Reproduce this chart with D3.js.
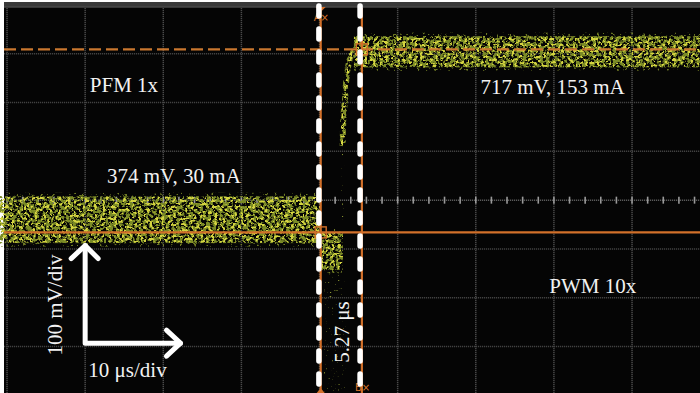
<!DOCTYPE html>
<html>
<head>
<meta charset="utf-8">
<script src="https://cdn.jsdelivr.net/npm/d3@7"></script>
<style>
html, body { margin:0; padding:0; background:#fff; }
svg { display:block; }
.lbl { font-family:"Liberation Serif","DejaVu Serif",serif; font-size:21px; fill:#f2f2f2; }
.cur { font-family:"DejaVu Sans",sans-serif; font-size:10px; fill:#d9742c; }
</style>
</head>
<body>
<svg id="scope" width="700" height="393"></svg>
<script>
"use strict";
var W = 700, H = 393;

// graticule (10 us/div, 100 mV/div)
var gridTimes = [-40, -30, -20, -10, 0, 10, 20, 30, 40];
var gridLevels = [-300, -200, -100, 0, 100, 200, 300];
var minorTicks = [-40, -38, -36, -34, -32, -30, -28, -26, -24, -22, -20, -18, -16, -14, -12, -10, -8, -6, -4, -2,
                  0, 2, 4, 6, 8, 10, 12, 14, 16, 18, 20, 22, 24, 26, 28, 30, 32, 34, 36, 38, 40, 42, 44, 46, 48];

// noisy trace bands (us, mV on screen)
var bandStart  = [-41, 0.2, 4.4];
var bandEnd    = [0.2, 3.0, 49];
var bandTop    = [8, -66, 336];
var bandBottom = [-88, -143, 272];

// sparse dots under the drop
var tailStart = 0.6, tailEnd = 3.3, tailTop = -143, tailBottom = -392;

// rising edge of the trace
var riseT  = [2.97, 3.0, 3.1, 3.26, 3.39, 3.65, 4.16, 4.93, 5.6];
var riseMV = [110, 143, 180, 205, 240, 273, 301, 313, 320];
// faint dots below the rising edge
var riseFaintT  = [2.9, 2.93, 2.97];
var riseFaintMV = [-40, 40, 110];

// cursors
var cursorTimes = [0.15, 5.42];
var cursorLevels = [-66, 309];
var cursorNames = ["A\u00d7", "B\u00d7"];

// annotations
var labelText = ["PFM 1x", "717 mV, 153 mA", "374 mV, 30 mA", "PWM 10x", "10 \u03bcs/div"];
var labelT    = [-29.4, 20.6, -27.2, 29.4, -29.6];
var labelMV   = [222, 217, 35, -190, -362];
var deltaText = "5.27 \u03bcs";
var axisText = "100 mV/div";

// scale arrow: origin, up end, right end
var arrowT = [-30, -30, -17.8];
var arrowMV = [-293, -93, -293];

var x = d3.scaleLinear().domain([-40.9, 48.7]).range([0, W]);
var y = d3.scaleLinear().domain([-395, 410]).range([H, 0]);

var svg = d3.select("#scope");
var defs = svg.append("defs");

function addSpeckle(id, freq, seed, cut) {
  var gain = 12;
  var f = defs.append("filter").attr("id", id)
    .attr("filterUnits", "userSpaceOnUse")
    .attr("x", 0).attr("y", 0).attr("width", W).attr("height", H)
    .attr("color-interpolation-filters", "sRGB");
  f.append("feTurbulence").attr("type", "fractalNoise")
    .attr("baseFrequency", freq).attr("numOctaves", 2).attr("seed", seed).attr("result", "n");
  f.append("feColorMatrix").attr("in", "n").attr("type", "matrix")
    .attr("values", "0 0 0 0 0  0 0 0 0 0  0 0 0 0 0  " + gain + " 0 0 0 " + (-cut * gain))
    .attr("result", "m");
  f.append("feComposite").attr("in", "SourceGraphic").attr("in2", "m").attr("operator", "in");
}
addSpeckle("spOlive", 0.3, 3, 0.47);
addSpeckle("spYellow", 0.34, 11, 0.56);
addSpeckle("spSparse", 0.35, 7, 0.62);
addSpeckle("spTail", 0.5, 5, 0.7);

// screen
svg.append("rect").attr("x", 4).attr("y", 2).attr("width", W - 4).attr("height", H - 2).attr("fill", "#050505");
svg.append("rect").attr("x", 4).attr("y", 2).attr("width", W - 4).attr("height", 4.5).attr("fill", "#3a3a3a");
svg.append("line").attr("x1", 4).attr("x2", W).attr("y1", 7).attr("y2", 7).attr("stroke", "#6a6a6a").attr("stroke-width", 1.2);

// grid
var grid = svg.append("g");
grid.selectAll("line.v").data(gridTimes).enter().append("line")
  .attr("x1", function(d) { return x(d); }).attr("x2", function(d) { return x(d); })
  .attr("y1", 8).attr("y2", H)
  .attr("stroke", "#4a4a4a").attr("stroke-width", 1.5).attr("stroke-dasharray", "1.2,0.8");
grid.selectAll("line.h").data(gridLevels).enter().append("line")
  .attr("x1", 4).attr("x2", W)
  .attr("y1", function(d) { return y(d); }).attr("y2", function(d) { return y(d); })
  .attr("stroke", function(d) { return d === 0 ? "#5a5a5a" : "#424242"; })
  .attr("stroke-width", 1.5).attr("stroke-dasharray", "1.2,0.8");
grid.selectAll("line.tk").data(minorTicks).enter().append("line")
  .attr("x1", function(d) { return x(d); }).attr("x2", function(d) { return x(d); })
  .attr("y1", y(0) - 3.5).attr("y2", y(0) + 3.5)
  .attr("stroke", "#9a9a9a").attr("stroke-width", 1.6);

// traces
var traces = svg.append("g");
var bands = d3.range(bandStart.length);
function bandRect(sel, pad) {
  return sel.append("rect")
    .attr("x", function(i) { return x(bandStart[i]); })
    .attr("width", function(i) { return x(bandEnd[i]) - x(bandStart[i]); })
    .attr("y", function(i) { return y(bandTop[i] + pad); })
    .attr("height", function(i) { return y(bandBottom[i] - pad) - y(bandTop[i] + pad); });
}
traces.append("rect")
  .attr("x", x(tailStart)).attr("width", x(tailEnd) - x(tailStart))
  .attr("y", y(tailTop)).attr("height", y(tailBottom) - y(tailTop))
  .attr("fill", "#8a9430").attr("filter", "url(#spTail)");
bandRect(traces.selectAll("g.fz").data(bands).enter().append("g"), 7)
  .attr("fill", "#6e7a24").attr("filter", "url(#spSparse)");
bandRect(traces.selectAll("g.ol").data(bands).enter().append("g"), 0)
  .attr("fill", "#7a8a26").attr("filter", "url(#spOlive)");
bandRect(traces.selectAll("g.ye").data(bands).enter().append("g"), -1)
  .attr("fill", "#d4d440").attr("filter", "url(#spYellow)");

var rise = d3.line().curve(d3.curveMonotoneY)
  .x(function(d, i) { return x(riseT[i]); })
  .y(function(d, i) { return y(riseMV[i]); });
var riseFaint = d3.line()
  .x(function(d, i) { return x(riseFaintT[i]); })
  .y(function(d, i) { return y(riseFaintMV[i]); });
traces.append("path").attr("d", riseFaint(riseFaintT)).attr("fill", "none")
  .attr("stroke", "#8a9430").attr("stroke-width", 4).attr("filter", "url(#spTail)");
traces.append("path").attr("d", rise(riseT)).attr("fill", "none")
  .attr("stroke", "#7f8c28").attr("stroke-width", 6).attr("filter", "url(#spOlive)");
traces.append("path").attr("d", rise(riseT)).attr("fill", "none")
  .attr("stroke", "#d8d844").attr("stroke-width", 4).attr("filter", "url(#spYellow)");

// cursors
var orange = "#d2702a";
svg.append("line").attr("x1", 4).attr("x2", W)
  .attr("y1", y(cursorLevels[0])).attr("y2", y(cursorLevels[0]))
  .attr("stroke", orange).attr("stroke-width", 2.2);
svg.append("line").attr("x1", 4).attr("x2", W)
  .attr("y1", y(cursorLevels[1])).attr("y2", y(cursorLevels[1]))
  .attr("stroke", "#c9772f").attr("stroke-width", 2.2).attr("stroke-dasharray", "12,5");
svg.selectAll("line.cv").data(cursorTimes).enter().append("line")
  .attr("x1", function(d) { return x(d); }).attr("x2", function(d) { return x(d); })
  .attr("y1", 8).attr("y2", H)
  .attr("stroke", orange).attr("stroke-width", 2.2);
svg.selectAll("rect.cm").data(cursorTimes).enter().append("rect")
  .attr("x", function(d) { return x(d) - 5.5; })
  .attr("y", function(d, i) { return y(cursorLevels[i]) - 5.5; })
  .attr("width", 11).attr("height", 11)
  .attr("fill", "none").attr("stroke", orange).attr("stroke-width", 1.4);
svg.append("path")
  .attr("d", "M" + (x(cursorTimes[0]) - 5) + ",7L" + (x(cursorTimes[0]) + 5) + ",7L" + x(cursorTimes[0]) + ",12Z")
  .attr("fill", orange);
svg.append("path")
  .attr("d", "M" + (x(cursorTimes[0]) - 4) + "," + H + "L" + (x(cursorTimes[0]) + 4) + "," + H + "L" + x(cursorTimes[0]) + "," + (H - 5) + "Z")
  .attr("fill", orange);
svg.append("text").attr("class", "cur").attr("x", x(cursorTimes[0]) - 7).attr("y", 21).text(cursorNames[0]);
svg.append("text").attr("class", "cur").attr("x", x(cursorTimes[1]) - 7).attr("y", 391).text(cursorNames[1]);

// white dashed markers
svg.selectAll("line.wd").data(cursorTimes).enter().append("line")
  .attr("x1", function(d) { return x(d) - 1.8; }).attr("x2", function(d) { return x(d) - 1.8; })
  .attr("y1", 6).attr("y2", H + 4)
  .attr("stroke", "#ffffff").attr("stroke-width", 5.5)
  .attr("stroke-linecap", "round").attr("stroke-dasharray", "10,13");

// labels
svg.selectAll("text.lbl").data(labelText).enter().append("text")
  .attr("class", "lbl")
  .attr("x", function(d, i) { return x(labelT[i]); })
  .attr("y", function(d, i) { return y(labelMV[i]); })
  .text(function(d) { return d; });
svg.append("text").attr("class", "lbl")
  .attr("transform", "translate(" + (x(cursorTimes[0]) + 28) + "," + y(-333) + ") rotate(-90)")
  .text(deltaText);
svg.append("text").attr("class", "lbl")
  .attr("transform", "translate(" + x(-33) + "," + y(-318) + ") rotate(-90)")
  .text(axisText);

// scale arrow
var ax = arrowT.map(function(d) { return x(d); });
var ay = arrowMV.map(function(d) { return y(d); });
var arrow = svg.append("g").attr("fill", "none").attr("stroke", "#ffffff")
  .attr("stroke-width", 5).attr("stroke-linecap", "round").attr("stroke-linejoin", "round");
arrow.append("path").attr("d", "M" + ax[1] + "," + ay[1] + "L" + ax[0] + "," + ay[0] + "L" + ax[2] + "," + ay[2]);
arrow.append("path").attr("d", "M" + (ax[1] - 14) + "," + (ay[1] + 13) + "L" + ax[1] + "," + ay[1] + "L" + (ax[1] + 13) + "," + (ay[1] + 13));
arrow.append("path").attr("d", "M" + (ax[2] - 14) + "," + (ay[2] - 13) + "L" + ax[2] + "," + ay[2] + "L" + (ax[2] - 14) + "," + (ay[2] + 13));
</script>
</body>
</html>
